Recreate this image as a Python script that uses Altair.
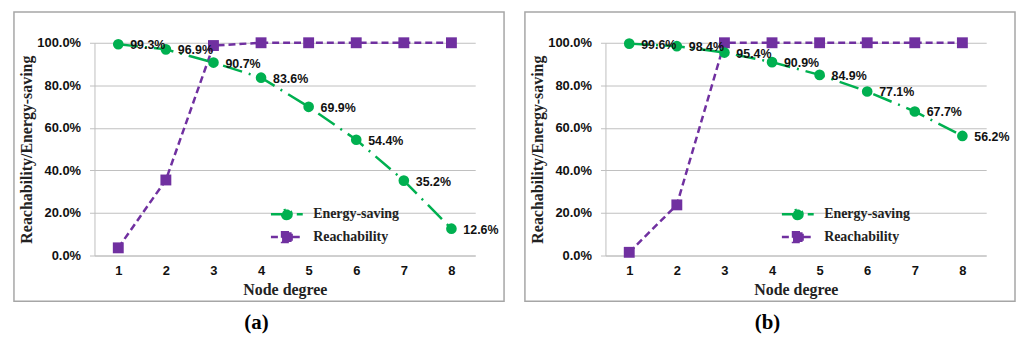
import altair as alt
import pandas as pd

degrees = [1, 2, 3, 4, 5, 6, 7, 8]
energy_a = [0.993, 0.969, 0.907, 0.836, 0.699, 0.544, 0.352, 0.126]
reach_a = [0.036, 0.355, 0.987, 1.0, 1.0, 1.0, 1.0, 1.0]
energy_b = [0.996, 0.984, 0.954, 0.909, 0.849, 0.771, 0.677, 0.562]
reach_b = [0.015, 0.238, 1.0, 1.0, 1.0, 1.0, 1.0, 1.0]
series_names = ["Energy-saving", "Reachability"]
captions = ["(a)", "(b)"]
y_ticks = [0.0, 0.2, 0.4, 0.6, 0.8, 1.0]

GREEN = "#00B050"
PURPLE = "#7030A0"
GRID = "#BFBFBF"

PW, PH = 383, 214
DASH_E = [20, 7, 2, 7]
DASH_R = [7, 4]

LEG_CIRCLE = "M-2,0H2M0.6,0A0.6,0.6,0,1,1,-0.6,0A0.6,0.6,0,1,1,0.6,0Z"
LEG_SQUARE = "M-2,0H2M-0.6,-0.6H0.6V0.6H-0.6Z"


def panel(energy, reach, caption):
    df = pd.DataFrame({
        "degree": degrees * 2,
        "value": energy + reach,
        "series": [series_names[0]] * len(degrees) + [series_names[1]] * len(degrees),
    })
    one = pd.DataFrame({"k": [0]})

    x = alt.X("degree:O", scale=alt.Scale(padding=0.5),
              axis=alt.Axis(title="Node degree", labelAngle=0, ticks=False, grid=False,
                            labelPadding=9, titlePadding=4))
    y = alt.Y("value:Q", scale=alt.Scale(domain=[0, 1], nice=False),
              axis=alt.Axis(title="Reachability/Energy-saving", format=".1%", values=y_ticks,
                            grid=True, tickSize=5, labelPadding=9, titlePadding=2))

    base = alt.Chart(df).encode(x=x, y=y)

    border = alt.Chart(one).mark_rect(fill="transparent", stroke="#A6A6A6", strokeWidth=1.5).encode(
        x=alt.value(-81), x2=alt.value(PW + 29), y=alt.value(-31), y2=alt.value(PH + 46))

    reach_line = base.transform_filter(alt.datum.series == series_names[1]).mark_line(
        color=PURPLE, strokeDash=DASH_R, strokeWidth=2.5)
    energy_line = base.transform_filter(alt.datum.series == series_names[0]).mark_line(
        color=GREEN, strokeDash=DASH_E, strokeWidth=2.5)
    reach_pts = base.transform_filter(alt.datum.series == series_names[1]).mark_point(
        shape="square", filled=True, size=120, color=PURPLE, opacity=1)
    energy_pts = base.transform_filter(alt.datum.series == series_names[0]).mark_point(
        shape="circle", filled=True, size=115, color=GREEN, opacity=1)
    labels = base.transform_filter(alt.datum.series == series_names[0]).mark_text(
        align="left", baseline="middle", dx=12, dy=1, font="Liberation Sans",
        fontWeight="bold", fontSize=12.5, color="#111").encode(
        text=alt.Text("value:Q", format=".1%"))

    leg = alt.Legend(title=None, orient="none", legendX=184, legendY=163)
    sc = alt.Scale(domain=series_names, range=[GREEN, PURPLE])
    legend_layer = base.transform_filter("false").mark_point(
        filled=True, strokeWidth=2.5, opacity=1).encode(
        color=alt.Color("series:N", scale=sc, legend=leg),
        stroke=alt.Stroke("series:N", scale=sc, legend=leg),
        shape=alt.Shape("series:N", scale=alt.Scale(domain=series_names, range=[LEG_CIRCLE, LEG_SQUARE]), legend=leg),
        strokeDash=alt.StrokeDash("series:N", scale=alt.Scale(domain=series_names, range=[[14, 5, 2, 5], DASH_R]), legend=leg),
    )

    cap = alt.Chart(one).mark_text(text=caption, font="Liberation Serif", fontWeight="bold",
                                   fontSize=21, color="#000").encode(
        x=alt.value(163), y=alt.value(PH + 68))

    return alt.layer(border, reach_line, energy_line, reach_pts, energy_pts, labels,
                     legend_layer, cap).properties(width=PW, height=PH)


chart = alt.hconcat(panel(energy_a, reach_a, captions[0]),
                    panel(energy_b, reach_b, captions[1]),
                    spacing=19).resolve_scale(
    color="independent", stroke="independent", shape="independent", strokeDash="independent"
).resolve_legend(
    color="independent", stroke="independent", shape="independent", strokeDash="independent"
).properties(
    padding={"left": 5, "top": 2, "right": 0, "bottom": 2}
).configure_view(strokeWidth=0).configure_axis(
    labelFont="Liberation Sans", labelFontWeight="bold", labelFontSize=13, labelColor="#111",
    titleFont="Liberation Serif", titleFontWeight="bold", titleFontSize=16, titleColor="#222",
    gridColor=GRID, domainColor=GRID, tickColor=GRID, gridWidth=1, domainWidth=1,
).configure_legend(
    symbolSize=256, symbolStrokeWidth=2.5, labelOffset=17, rowPadding=2,
    labelFont="Liberation Serif", labelFontSize=14, labelFontWeight="bold",
    labelColor="#222", padding=0,
)

chart.save("out.html", embed_options={"renderer": "svg", "actions": False})
